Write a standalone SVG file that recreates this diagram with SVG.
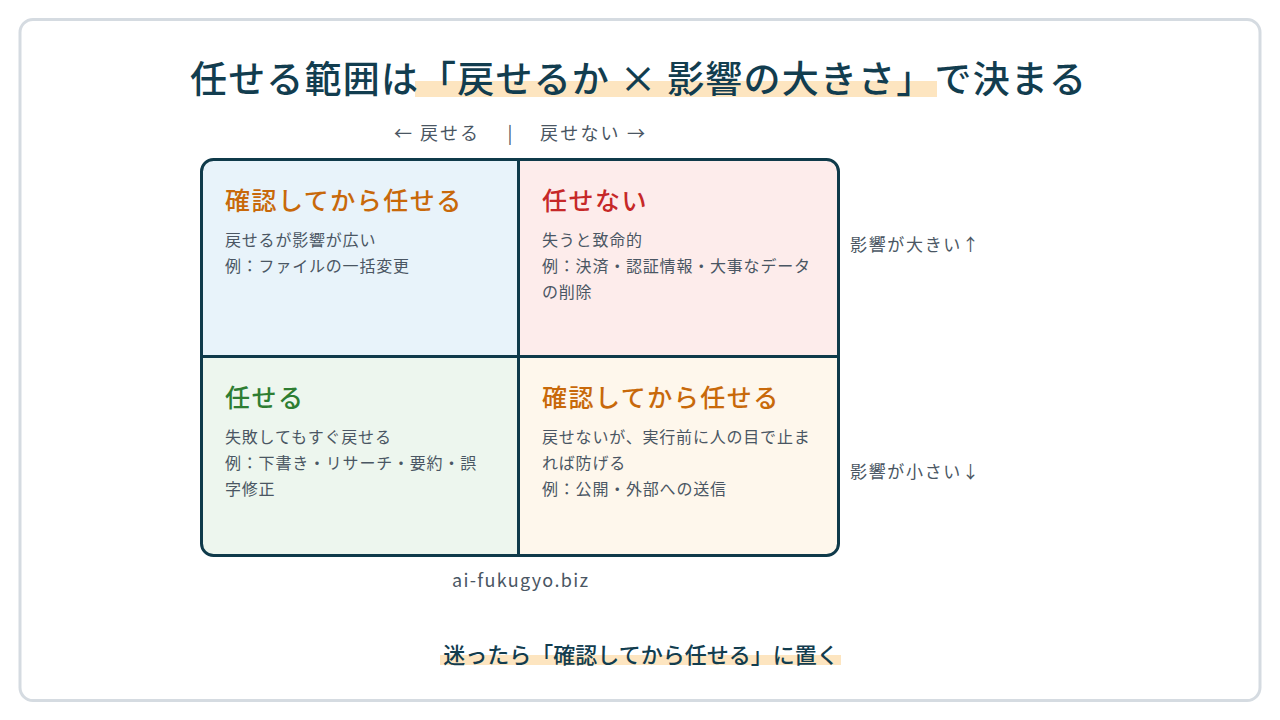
<svg xmlns="http://www.w3.org/2000/svg" width="1280" height="720" viewBox="0 0 1280 720">
<style>
.t{font-family:"Noto Sans CJK JP","Noto Sans",sans-serif}
.ttl{font-size:37px;fill:#123d4f;font-weight:500}
.ax{font-size:18px;fill:#4a5663}
.qh{font-size:25px;font-weight:500;letter-spacing:1.5px}
.qb{font-size:16px;fill:#4a5663;letter-spacing:0.8px}
.side{font-size:17px;fill:#4a5663}
</style>
<rect x="0" y="0" width="1280" height="720" fill="#ffffff"/>
<rect x="20" y="19.5" width="1240" height="681" rx="13" fill="#ffffff" stroke="#d5dbe1" stroke-width="3"/>
<g id="title">
<rect x="415" y="81" width="522" height="16" fill="#fde5c0"/>
<text class="t ttl" x="190" y="93" textLength="896" lengthAdjust="spacing">任せる範囲は「戻せるか × 影響の大きさ」で決まる</text>
</g>
<g id="axis">
<text class="t ax" x="394" y="140" textLength="84" lengthAdjust="spacing">← 戻せる</text>
<text class="t ax" x="510" y="140" text-anchor="middle">|</text>
<text class="t ax" x="540" y="140" textLength="105" lengthAdjust="spacing">戻せない →</text>
</g>
<g id="q-tl">
<path d="M213 159 H518 V356 H201 V171 A12 12 0 0 1 213 159 Z" fill="#e8f3fa"/>
<text class="t qh" x="225" y="210" fill="#c8690a">確認してから任せる</text>
<text class="t qb" x="225" y="246">戻せるが影響が広い</text>
<text class="t qb" x="225" y="272">例：ファイルの一括変更</text>
</g>
<g id="q-tr">
<path d="M518 159 H827 A12 12 0 0 1 839 171 V356 H518 Z" fill="#fdeceb"/>
<text class="t qh" x="542" y="210" fill="#c62828">任せない</text>
<text class="t qb" x="542" y="246">失うと致命的</text>
<text class="t qb" x="542" y="272">例：決済・認証情報・大事なデータ</text>
<text class="t qb" x="542" y="298">の削除</text>
</g>
<g id="q-bl">
<path d="M201 356 H518 V556 H213 A12 12 0 0 1 201 544 Z" fill="#edf6ee"/>
<text class="t qh" x="225" y="407" fill="#2e7d32">任せる</text>
<text class="t qb" x="225" y="443">失敗してもすぐ戻せる</text>
<text class="t qb" x="225" y="469">例：下書き・リサーチ・要約・誤</text>
<text class="t qb" x="225" y="495">字修正</text>
</g>
<g id="q-br">
<path d="M518 356 H839 V544 A12 12 0 0 1 827 556 H518 Z" fill="#fef7ec"/>
<text class="t qh" x="542" y="407" fill="#c8690a">確認してから任せる</text>
<text class="t qb" x="542" y="443">戻せないが、実行前に人の目で止ま</text>
<text class="t qb" x="542" y="469">れば防げる</text>
<text class="t qb" x="542" y="495">例：公開・外部への送信</text>
</g>
<g id="connectors" fill="none" stroke="#0f3a4a" stroke-width="3">
<rect x="201.5" y="159.5" width="637" height="396" rx="12"/>
<line x1="518.5" y1="159.5" x2="518.5" y2="555.5"/>
<line x1="201.5" y1="356.5" x2="838.5" y2="356.5"/>
</g>
<g id="side">
<text class="t side" x="850" y="251" textLength="129" lengthAdjust="spacing">影響が大きい↑</text>
<text class="t side" x="850" y="478" textLength="129" lengthAdjust="spacing">影響が小さい↓</text>
</g>
<g id="footer">
<text class="t ax" x="452" y="587" textLength="136" lengthAdjust="spacing">ai-fukugyo.biz</text>
<rect x="440" y="655" width="401" height="10" fill="#fde5c0"/>
<text class="t" x="641" y="663" text-anchor="middle" font-size="22" fill="#123d4f" font-weight="500">迷ったら「確認してから任せる」に置く</text>
</g>
</svg>
